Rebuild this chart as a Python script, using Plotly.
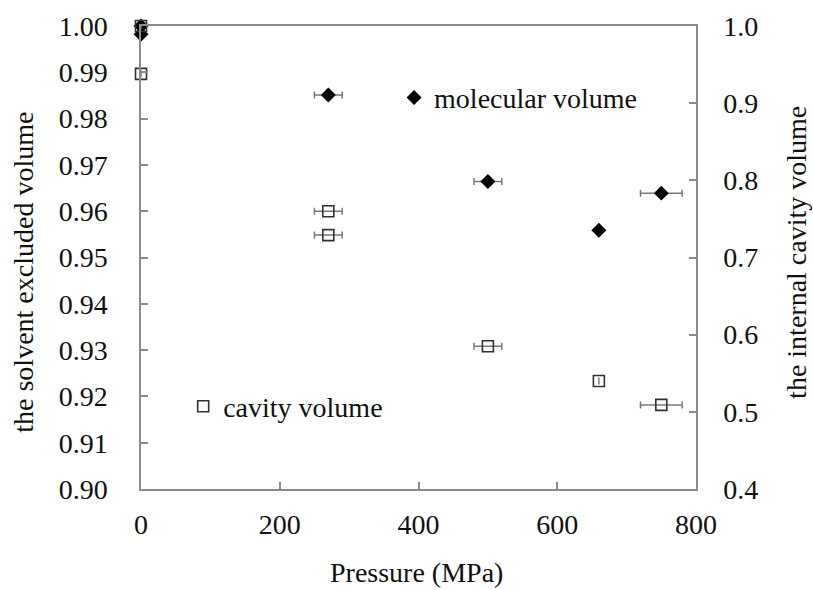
import plotly.graph_objects as go

# Molecular volume (left axis: solvent excluded volume)
mol_pressure = [0, 0, 270, 500, 660, 750]
mol_volume = [1.000, 0.9982, 0.9851, 0.9664, 0.9559, 0.9639]
mol_err = [0, 0, 20, 20, 0, 30]

# Cavity volume (right axis: internal cavity volume)
cav_pressure = [0, 0, 270, 270, 500, 660, 750]
cav_volume = [1.000, 0.938, 0.760, 0.729, 0.585, 0.540, 0.509]
cav_err = [0, 0, 20, 20, 20, 0, 30]

x_ticks = [0, 200, 400, 600, 800]
left_ticks = [0.90, 0.91, 0.92, 0.93, 0.94, 0.95, 0.96, 0.97, 0.98, 0.99, 1.00]
right_ticks = [0.4, 0.5, 0.6, 0.7, 0.8, 0.9, 1.0]

FONT = "'Liberation Serif', 'Times New Roman', Times, serif"
AX = "#8c8c8c"
TXT = "#111111"

fig = go.Figure()
fig.add_trace(go.Scatter(
    x=cav_pressure, y=cav_volume, mode="markers", name="cavity volume",
    yaxis="y2", legend="legend2", cliponaxis=False,
    marker=dict(symbol="square-open", size=11, color="#333333", line=dict(width=1.6, color="#333333")),
    error_x=dict(type="data", array=cav_err, color="#7a7a7a", thickness=1.5, width=3.5),
))
fig.add_trace(go.Scatter(
    x=mol_pressure, y=mol_volume, mode="markers", name="molecular volume",
    legend="legend", cliponaxis=False,
    marker=dict(symbol="diamond", size=11.5, color="#000000"),
    error_x=dict(type="data", array=mol_err, color="#7a7a7a", thickness=1.5, width=3.5),
))

tickfont = dict(family=FONT, size=28, color=TXT)
titlefont = dict(family=FONT, size=28, color=TXT)

fig.update_layout(
    width=813, height=590,
    margin=dict(l=141, r=117, t=26, b=101, autoexpand=False),
    paper_bgcolor="white", plot_bgcolor="white",
    font=dict(family=FONT, size=28, color=TXT),
    xaxis=dict(
        range=[0, 800], tickvals=x_ticks, ticktext=[str(v) for v in x_ticks],
        showgrid=False, zeroline=False, showline=True, linecolor=AX, linewidth=1.5,
        ticks="inside", ticklen=7, tickcolor=AX, tickwidth=1.5, mirror=True,
        tickfont=tickfont, ticklabelstandoff=10, automargin=False,
    ),
    yaxis=dict(
        range=[0.90, 1.00], tickvals=left_ticks, ticktext=[f"{v:.2f}" for v in left_ticks],
        showgrid=False, zeroline=False, showline=True, linecolor=AX, linewidth=1.5,
        ticks="inside", ticklen=7, tickcolor=AX, tickwidth=1.5,
        tickfont=tickfont, ticklabelstandoff=26, automargin=False,
    ),
    yaxis2=dict(
        range=[0.4, 1.0], tickvals=right_ticks, ticktext=[f"{v:.1f}" for v in right_ticks],
        overlaying="y", side="right",
        showgrid=False, zeroline=False, showline=True, linecolor=AX, linewidth=1.5,
        ticks="inside", ticklen=7, tickcolor=AX, tickwidth=1.5,
        tickfont=tickfont, ticklabelstandoff=20, automargin=False,
    ),
    annotations=[
        dict(text="the solvent excluded volume", textangle=-90, showarrow=False,
             xref="paper", yref="paper", x=-0.211, y=0.469,
             xanchor="center", yanchor="middle", font=titlefont),
        dict(text="the internal cavity volume", textangle=-90, showarrow=False,
             xref="paper", yref="paper", x=1.182, y=0.51,
             xanchor="center", yanchor="middle", font=titlefont),
        dict(text="Pressure (MPa)", showarrow=False,
             xref="paper", yref="paper", x=0.497, y=-0.181,
             xanchor="center", yanchor="middle", font=titlefont),
    ],
    legend=dict(x=0.456, y=0.845, xanchor="left", yanchor="middle",
                bgcolor="rgba(0,0,0,0)", font=dict(family=FONT, size=28, color=TXT)),
    legend2=dict(x=0.076, y=0.178, xanchor="left", yanchor="middle",
                 bgcolor="rgba(0,0,0,0)", font=dict(family=FONT, size=28, color=TXT)),
    showlegend=True,
)

fig.write_html("out.html")
